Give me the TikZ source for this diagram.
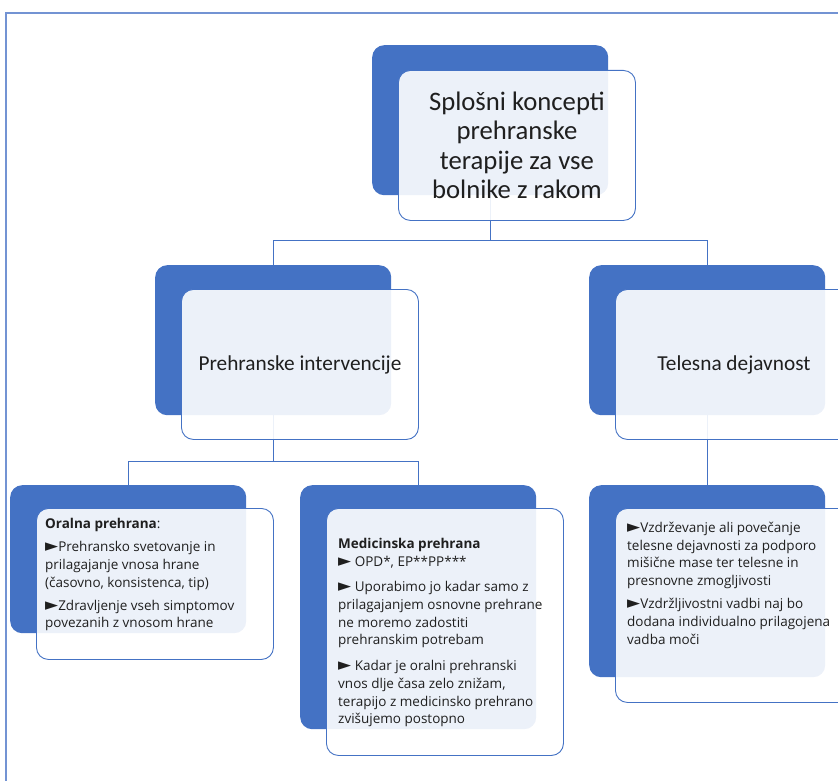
\documentclass[tikz,border=0pt]{standalone}
\usepackage{fontspec}
\setmainfont{Carlito}
\newfontfamily\smallfont{Open Sans}
\newfontfamily\symfont{DejaVu Sans}
\usetikzlibrary{positioning, calc}

\definecolor{dblue}{HTML}{4472C4}
\definecolor{lblue}{HTML}{7393D3}
\newcommand{\tri}{{\symfont\fontsize{17}{17.7}\selectfont\char"25BA}}

\pgfdeclarelayer{background}
\pgfsetlayers{background,main}

\begin{document}
\begin{tikzpicture}[
      x=1pt, y=-1pt,
      back/.style={fill=dblue, rounded corners=12pt, minimum width=236pt, minimum height=150pt, inner sep=0pt, anchor=north west},
      front/.style={draw=dblue, line width=0.9pt, fill=white, fill opacity=0.9, text opacity=1, rounded corners=12pt,
                    minimum width=237pt, minimum height=150pt, inner sep=0pt, align=center, anchor=north west, text=black!88},
      big/.style={font=\fontsize{26.7}{29.5}\selectfont},
      mid/.style={font=\fontsize{21.3}{26}\selectfont},
      body/.style={font=\smallfont\fontsize{13.5}{17.7}\selectfont, align=left, anchor=north west, inner sep=0pt, text=black!88},
      link/.style={draw=dblue, line width=0.8pt}
    ]

    \useasboundingbox (0,0) rectangle (838,781);
    \clip (0,0) rectangle (838,781);

    % top level
    \node[back] (top-b) at (372,45) {};
    \node[front, big] (top) at ($(top-b.north west)+(26,25)$)
      {Splošni koncepti\\prehranske\\terapije za vse\\bolnike z rakom};

    % second level
    \node[back] (prehr-b) at (155,265) {};
    \node[front, mid] (prehr) at ($(prehr-b.north west)+(26,24)$) {Prehranske intervencije};

    \node[back] (tel-b) at (589,265) {};
    \node[front, mid] (tel) at ($(tel-b.north west)+(26,24)$) {Telesna dejavnost};

    % third level
    \node[back, minimum height=148pt] (oral-b) at (10,485) {};
    \node[front, minimum height=151pt] (oral) at ($(oral-b.north west)+(26,23)$) {};
    \node[body] (oral-t) at ($(oral.north west)+(9,10)$)
      {\textbf{Oralna prehrana}:\\[5.5pt]
       \tri Prehransko svetovanje in\\prilagajanje vnosa hrane\\(časovno, konsistenca, tip)\\[5.5pt]
       \tri Zdravljenje vseh simptomov\\povezanih z vnosom hrane};

    \node[back, minimum height=244pt] (med-b) at (300,485) {};
    \node[front, minimum height=247pt] (med) at ($(med-b.north west)+(26,23)$) {};
    \node[body] (med-t) at ($(med.north west)+(12,30)$)
      {\textbf{Medicinska prehrana}\\
       \tri{} OPD*, EP**PP***\\[8pt]
       \tri{} Uporabimo jo kadar samo z\\prilagajanjem osnovne prehrane\\ne moremo zadostiti\\prehranskim potrebam\\[8pt]
       \tri{} Kadar je oralni prehranski\\vnos dlje časa zelo znižam,\\terapijo z medicinsko prehrano\\zvišujemo postopno};

    \node[back, minimum height=192pt] (vad-b) at (589,485) {};
    \node[front, minimum height=194pt] (vad) at ($(vad-b.north west)+(26,23)$) {};
    \node[body] (vad-t) at ($(vad.north west)+(12,14)$)
      {\tri Vzdrževanje ali povečanje\\telesne dejavnosti za podporo\\mišične mase ter telesne in\\presnovne zmogljivosti\\[5.5pt]
       \tri Vzdržljivostni vadbi naj bo\\dodana individualno prilagojena\\vadba moči};

    \begin{pgfonlayer}{background}
      \draw[lblue, line width=1.2pt] (6,13) rectangle (900,900);
      \draw[link] (top-b.south) -- ++(0,45) -| (prehr-b.north);
      \draw[link] (top-b.south) -- ++(0,45) -| (tel-b.north);
      \draw[link] (prehr-b.south) -- ++(0,46) -| (oral-b.north);
      \draw[link] (prehr-b.south) -- ++(0,46) -| (med-b.north);
      \draw[link] (tel-b.south) -- (vad-b.north);
    \end{pgfonlayer}

\end{tikzpicture}
\end{document}
